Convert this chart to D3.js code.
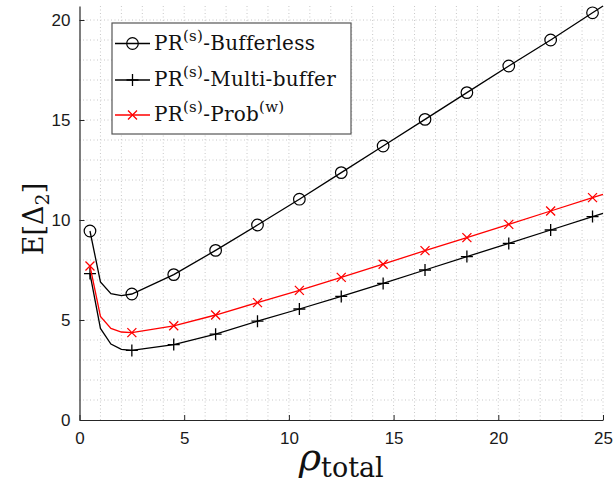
<!DOCTYPE html>
<html>
<head>
<meta charset="utf-8">
<script src="https://cdn.jsdelivr.net/npm/d3@7"></script>
<style>
  body { margin: 0; background: #fff; }
  svg { display: block; }
</style>
</head>
<body>
<svg width="614" height="485"></svg>
<script>
// rho_total values (dense near the minimum, then every 2)
const rho = [0.5, 1, 1.5, 2, 2.5, 4.5, 6.5, 8.5, 10.5, 12.5, 14.5, 16.5, 18.5, 20.5, 22.5, 24.5, 25];
const bufferless = [9.45, 6.9, 6.32, 6.22, 6.3, 7.27, 8.48, 9.75, 11.04, 12.37, 13.7, 15.03, 16.37, 17.7, 19.0, 20.36, 20.7];
const multiBuffer = [7.32, 4.58, 3.8, 3.53, 3.48, 3.77, 4.29, 4.94, 5.55, 6.18, 6.83, 7.5, 8.17, 8.83, 9.5, 10.17, 10.33];
const probW = [7.7, 5.18, 4.58, 4.4, 4.37, 4.71, 5.25, 5.87, 6.48, 7.13, 7.79, 8.47, 9.12, 9.78, 10.45, 11.12, 11.28];
const markerRho = [0.5, 2.5, 4.5, 6.5, 8.5, 10.5, 12.5, 14.5, 16.5, 18.5, 20.5, 22.5, 24.5];
const xTicks = [0, 5, 10, 15, 20, 25];
const yTicks = [0, 5, 10, 15, 20];

const svg = d3.select("svg");
const margin = { left: 79.5, right: 11, top: 6, bottom: 65 };
const width = 614, height = 485;

const x = d3.scaleLinear().domain([0, 25]).range([margin.left, width - margin.right]);
const y = d3.scaleLinear().domain([0, 20.7]).range([height - margin.bottom, margin.top]);

// dotted minor grid (every 1 unit)
const grid = svg.append("g");
grid.selectAll("line.gx").data(d3.range(1, 26)).enter().append("line")
  .attr("x1", d => x(d)).attr("x2", d => x(d))
  .attr("y1", y(0)).attr("y2", margin.top)
  .attr("stroke", "#c8c8c8").attr("stroke-width", 1).attr("stroke-dasharray", "1,2.5");
grid.selectAll("line.gy").data(d3.range(1, 21)).enter().append("line")
  .attr("y1", d => y(d)).attr("y2", d => y(d))
  .attr("x1", x(0)).attr("x2", x(25))
  .attr("stroke", "#c8c8c8").attr("stroke-width", 1).attr("stroke-dasharray", "1,2.5");

// axes
const xAxis = d3.axisBottom(x).tickValues(xTicks).tickSizeInner(-5).tickSizeOuter(0).tickPadding(12);
const yAxis = d3.axisLeft(y).tickValues(yTicks).tickSizeInner(-5).tickSizeOuter(0).tickPadding(9);

const gx = svg.append("g").attr("transform", `translate(0,${y(0)})`).call(xAxis);
const gy = svg.append("g").attr("transform", `translate(${x(0)},0)`).call(yAxis);
[gx, gy].forEach(g => {
  g.select(".domain").attr("stroke", "#262626").attr("stroke-width", 1.2);
  g.selectAll(".tick line").attr("stroke", "#262626").attr("stroke-width", 1);
  g.selectAll("text").attr("font-family", "Liberation Sans, Arial, sans-serif")
    .attr("font-size", 17).attr("fill", "#1a1a1a");
});

// series
const series = [
  { name: "Bufferless", values: bufferless, color: "#000", marker: "circle" },
  { name: "Multi-buffer", values: multiBuffer, color: "#000", marker: "plus" },
  { name: "Prob", values: probW, color: "#ff0000", marker: "cross" }
];

const line = d3.line().x(d => x(d[0])).y(d => y(d[1]));

function drawMarker(g, type, color) {
  if (type === "circle") {
    g.append("circle").attr("r", 5.8).attr("fill", "none").attr("stroke", color).attr("stroke-width", 1.2);
  } else if (type === "plus") {
    g.append("path").attr("d", "M-6,0H6M0,-6V6").attr("stroke", color).attr("stroke-width", 1.3);
  } else {
    g.append("path").attr("d", "M-4.5,-4.5L4.5,4.5M-4.5,4.5L4.5,-4.5").attr("stroke", color).attr("stroke-width", 1.3);
  }
}

series.forEach(s => {
  const pts = rho.map((r, i) => [r, s.values[i]]);
  svg.append("path").datum(pts)
    .attr("d", line)
    .attr("fill", "none").attr("stroke", s.color).attr("stroke-width", 1.3);
  pts.filter(p => markerRho.includes(p[0])).forEach(p => {
    const g = svg.append("g").attr("transform", `translate(${x(p[0])},${y(p[1])})`);
    drawMarker(g, s.marker, s.color);
  });
});

// legend
const legend = svg.append("g");
legend.append("rect").attr("x", 112).attr("y", 23).attr("width", 239).attr("height", 111)
  .attr("fill", "#fff").attr("stroke", "#555").attr("stroke-width", 1.2);

const legendRows = [
  { s: series[0], main: "-Bufferless", sup2: null, cy: 43.5 },
  { s: series[1], main: "-Multi-buffer", sup2: null, cy: 80 },
  { s: series[2], main: "-Prob", sup2: "(w)", cy: 115 }
];
legendRows.forEach(r => {
  legend.append("line").attr("x1", 115).attr("x2", 150).attr("y1", r.cy).attr("y2", r.cy)
    .attr("stroke", r.s.color).attr("stroke-width", 1.3);
  const mg = legend.append("g").attr("transform", `translate(132.5,${r.cy})`);
  drawMarker(mg, r.s.marker, r.s.color);
  const t = legend.append("text").attr("x", 154).attr("y", r.cy + 6)
    .attr("font-family", "'DejaVu Serif', serif").attr("font-size", 20)
    .attr("letter-spacing", 0.25).attr("fill", "#111");
  t.append("tspan").text("PR");
  t.append("tspan").attr("dy", -9).attr("font-size", 15).text("(s)");
  t.append("tspan").attr("dy", 9).text(r.main);
  if (r.sup2) t.append("tspan").attr("dy", -9).attr("font-size", 15).text(r.sup2);
});

// axis labels
const yl = svg.append("text")
  .attr("transform", `translate(43,${(y(0) + y(20.7)) / 2 + 6}) rotate(-90)`)
  .attr("text-anchor", "middle")
  .attr("font-family", "'DejaVu Serif', serif").attr("font-size", 27).attr("fill", "#111");
yl.append("tspan").text("E[Δ");
yl.append("tspan").attr("dy", 6).attr("font-size", 19).text("2");
yl.append("tspan").attr("dy", -6).text("]");

const xl = svg.append("text")
  .attr("x", (x(0) + x(25)) / 2).attr("y", 470)
  .attr("text-anchor", "middle")
  .attr("font-family", "'DejaVu Serif', serif").attr("fill", "#111");
xl.append("tspan").attr("font-size", 38).attr("font-style", "italic").text("ρ");
xl.append("tspan").attr("dy", 7).attr("font-size", 27).text("total");
</script>
</body>
</html>
